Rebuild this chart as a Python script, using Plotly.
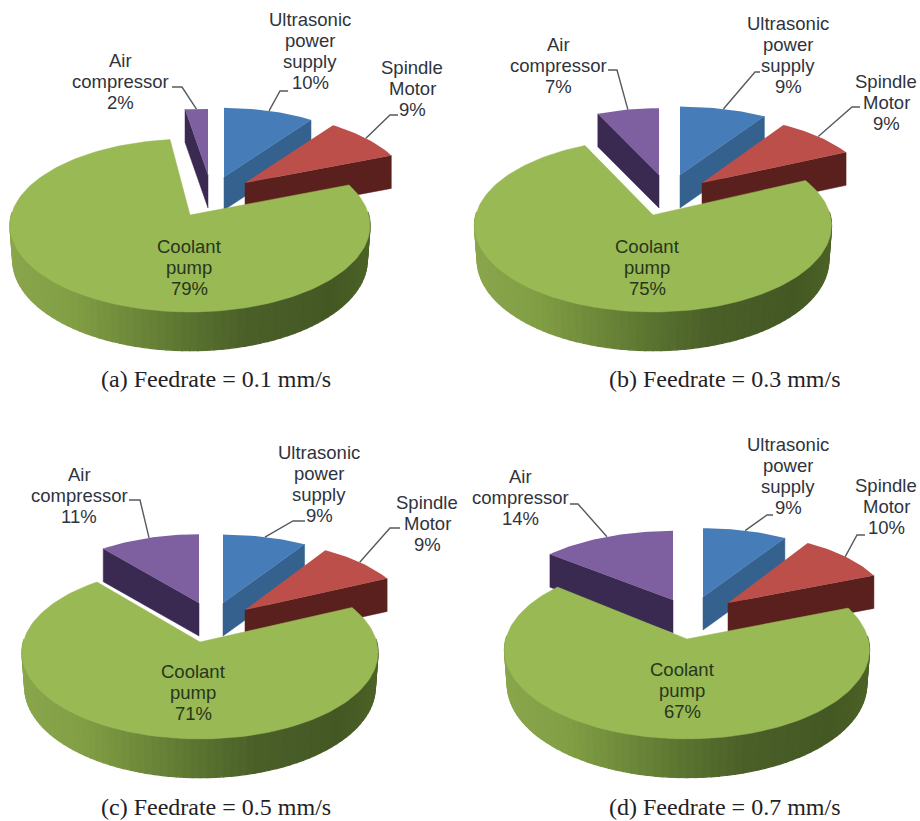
import math
import plotly.graph_objects as go

# Energy share per machine component, in drawing order clockwise from 12 o'clock
categories = ["Ultrasonic power supply", "Spindle Motor", "Coolant pump", "Air compressor"]
label_lines = [["Ultrasonic", "power", "supply"], ["Spindle", "Motor"], ["Coolant", "pump"], ["Air", "compressor"]]
feedrate_01 = [10, 9, 79, 2]
feedrate_03 = [9, 9, 75, 7]
feedrate_05 = [9, 9, 71, 11]
feedrate_07 = [9, 10, 67, 14]
captions = ["(a) Feedrate = 0.1 mm/s", "(b) Feedrate = 0.3 mm/s",
            "(c) Feedrate = 0.5 mm/s", "(d) Feedrate = 0.7 mm/s"]

TOP = ["#467cb8", "#bd4f4b", "#98b954", "#7e60a1"]
WALL = ["#35618f", "#5a201d", None, "#3a2a52"]
GREEN_WALL = [(0.0, (138, 166, 76)), (0.17, (130, 159, 69)), (0.33, (111, 138, 58)),
              (0.5, (90, 115, 48)), (0.66, (74, 95, 40)), (0.9, (68, 88, 36)), (1.0, (76, 98, 38))]
TEXT = "#2f333d"
TEXT_ON_DISC = "#27361c"

# Perspective of the pie plane and thickness of the discs
PERSP = 0.1214
FLAT = 85.2
DEPTH_SLICE = 33
DEPTH_DISC = 34

# Per-panel placement: slice apexes and scales (same order as categories)
panels = [
    dict(values=feedrate_01, rx=180, caption=(216, 379),
         apex=[(224, 177), (245, 183), (190, 215), (208, 175)],
         scale=[(.91, .91), (.92, .92), (1, 1), (1.15, .87)],
         text=[(310, 19), (412, 67), (189, 246), (120, 60)],
         elbow=[[(280, 91), (288, 91)], [(390, 115), (398, 115)], None, [(182, 87), (172, 87)]]),
    dict(values=feedrate_03, rx=178.5, caption=(724, 379),
         apex=[(680, 175), (702, 183), (653, 215), (659, 175)],
         scale=[(.98, .9), (.945, .89), (1, 1), (.9, .88)],
         text=[(788, 23), (886, 81), (647, 246), (558, 44)],
         elbow=[[(755, 72), (760, 72)], [(852, 107), (860, 107)], None, [(617, 70), (608, 70)]]),
    dict(values=feedrate_05, rx=178, caption=(216, 807),
         apex=[(223, 603), (245, 610), (200, 642), (199, 603)],
         scale=[(.95, .9), (.935, .915), (1, 1), (.93, .905)],
         text=[(319, 452), (427, 502), (193, 671), (79, 474)],
         elbow=[[(293, 521), (305, 521)], [(390, 528), (400, 528)], None, [(140, 500), (129, 500)]]),
    dict(values=feedrate_07, rx=182.5, caption=(724, 807),
         apex=[(703, 597), (728, 603), (687, 639), (673, 600)],
         scale=[(.93, .905), (.905, .92), (1, 1.03), (.95, .91)],
         text=[(788, 444), (886, 485), (682, 669), (520, 476)],
         elbow=[[(767, 515), (773, 515)], [(857, 535), (865, 535)], None, [(578, 504), (570, 504)]]),
]


def rim(theta_deg, rx, apex, scale):
    """Project the rim point at a clockwise angle from 12 o'clock onto the page."""
    t = math.radians(theta_deg)
    u, v = math.sin(t), -math.cos(t)
    s = 1 / (1 - PERSP * v)
    return (apex[0] + rx * 0.9926 * u * s * scale[0],
            apex[1] + FLAT * v * s * scale[1],
            s)


def angle_steps(a0, a1, step=1.5):
    n = max(2, int(abs(a1 - a0) / step) + 1)
    return [a0 + (a1 - a0) * i / (n - 1) for i in range(n)]


def mix(frac):
    for (f0, c0), (f1, c1) in zip(GREEN_WALL, GREEN_WALL[1:]):
        if frac <= f1:
            k = (frac - f0) / (f1 - f0)
            return "rgb(%d,%d,%d)" % tuple(round(a + (b - a) * k) for a, b in zip(c0, c1))
    return "rgb(%d,%d,%d)" % GREEN_WALL[-1][1]


def poly(fig, pts, color, line=0.0):
    fig.add_trace(go.Scatter(
        x=[p[0] for p in pts] + [pts[0][0]], y=[p[1] for p in pts] + [pts[0][1]],
        mode="lines", fill="toself", fillcolor=color,
        line=dict(color=color, width=line), hoverinfo="skip", showlegend=False))


fig = go.Figure()
annotations = []

for panel in panels:
    vals, rx = panel["values"], panel["rx"]
    spans, acc = [], 0.0
    for v in vals:
        spans.append((acc * 3.6, (acc + v) * 3.6))
        acc += v

    # Small slices first so that the coolant disc overlaps them
    for i in (0, 3, 1):
        a0, a1 = spans[i]
        apex, scale = panel["apex"][i], panel["scale"][i]
        # The wall that faces the viewer depends on which side of the pie the slice sits
        edge = a0 if i == 3 else a1
        x, y, _ = rim(edge, rx, apex, scale)
        poly(fig, [(apex[0], apex[1]), (x, y), (x, y + DEPTH_SLICE), (apex[0], apex[1] + DEPTH_SLICE)], WALL[i], 0.5)
        arc = [rim(a, rx, apex, scale)[:2] for a in angle_steps(a0, a1)]
        poly(fig, [apex] + arc, TOP[i])

    # Coolant disc: outer wall as shaded strips, then the top face
    a0, a1 = spans[2]
    apex, scale = panel["apex"][2], panel["scale"][2]
    strip = angle_steps(272, 88, 2.3)
    for p, q in zip(strip, strip[1:]):
        tp, tq = rim(p, rx, apex, scale), rim(q, rx, apex, scale)
        bp = (apex[0] + (tp[0] - apex[0]) * .985, tp[1] + DEPTH_DISC * tp[2])
        bq = (apex[0] + (tq[0] - apex[0]) * .985, tq[1] + DEPTH_DISC * tq[2])
        frac = ((tp[0] + tq[0]) / 2 - (apex[0] - rx)) / (2 * rx)
        poly(fig, [tp[:2], tq[:2], bq, bp], mix(max(0, min(1, frac))), 1.3)
    arc = [rim(a, rx, apex, scale)[:2] for a in angle_steps(a0, a1)]
    poly(fig, [apex] + arc, TOP[2], 0.5)

    # Leader lines from the middle of each outer rim to its label
    for i, elbow in enumerate(panel["elbow"]):
        if not elbow:
            continue
        a0, a1 = spans[i]
        start = rim((a0 + a1) / 2, rx, panel["apex"][i], panel["scale"][i])[:2]
        pts = [start] + elbow
        fig.add_trace(go.Scatter(x=[p[0] for p in pts], y=[p[1] for p in pts], mode="lines",
                                 line=dict(color="#555a60", width=1.4), hoverinfo="skip", showlegend=False))

    # Labels, one annotation per line for a tight line pitch
    for i, lines in enumerate(label_lines):
        cx, cy = panel["text"][i]
        colour = TEXT_ON_DISC if i == 2 else TEXT
        for j, line in enumerate(lines + [f"{vals[i]}%"]):
            annotations.append(dict(x=cx, y=cy + j * 21.3, text=line, showarrow=False,
                                    xanchor="center", yanchor="middle",
                                    font=dict(family="Liberation Sans", size=18.5, color=colour)))

for panel, caption in zip(panels, captions):
    annotations.append(dict(x=panel["caption"][0], y=panel["caption"][1], text=caption, showarrow=False,
                            xanchor="center", yanchor="middle",
                            font=dict(family="Liberation Serif", size=24, color="#1f2226")))

fig.update_layout(
    width=920, height=821, margin=dict(l=0, r=0, t=0, b=0),
    paper_bgcolor="white", plot_bgcolor="white", showlegend=False,
    xaxis=dict(range=[0, 920], visible=False, fixedrange=True),
    yaxis=dict(range=[821, 0], visible=False, fixedrange=True),
    annotations=annotations,
)
fig.write_html("out.html", config=dict(displayModeBar=False))
